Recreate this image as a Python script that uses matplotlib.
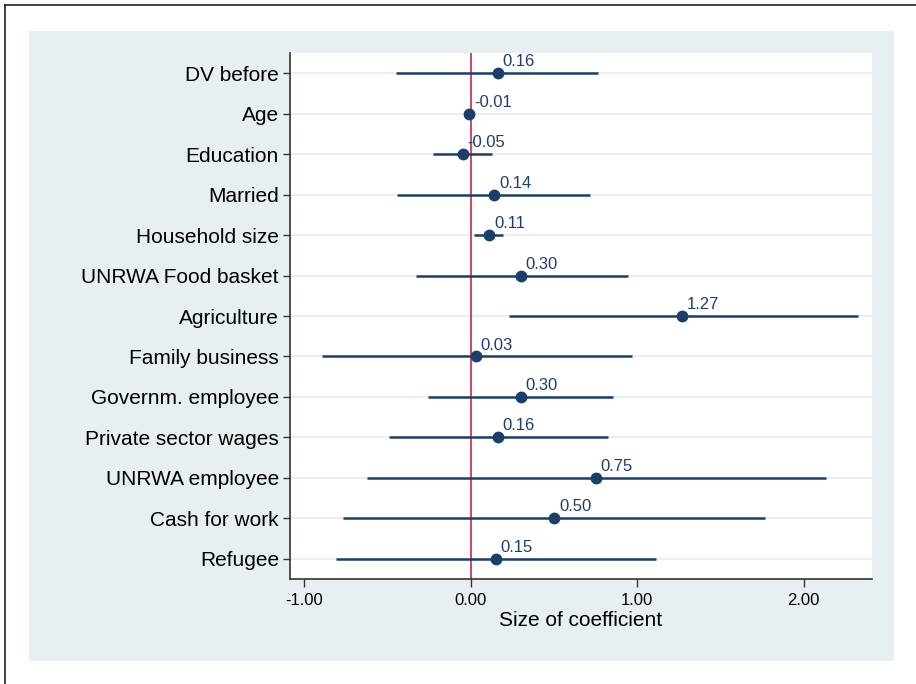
import numpy as np
import matplotlib
matplotlib.use("Agg")
from matplotlib import pyplot as plt
from matplotlib.patches import Rectangle
from matplotlib.lines import Line2D

plt.rcParams['font.family'] = ['Liberation Sans', 'DejaVu Sans']
plt.rcParams['axes.unicode_minus'] = False

# data
variables = ["DV before", "Age", "Education", "Married", "Household size",
             "UNRWA Food basket", "Agriculture", "Family business",
             "Governm. employee", "Private sector wages", "UNRWA employee",
             "Cash for work", "Refugee"]
coef = [0.16, -0.01, -0.05, 0.14, 0.11, 0.30, 1.27, 0.03, 0.30, 0.16, 0.75, 0.50, 0.15]
ci_low = [-0.45, -0.03, -0.226, -0.443, 0.02, -0.33, 0.23, -0.893, -0.258, -0.491, -0.625, -0.771, -0.811]
ci_high = [0.765, 0.01, 0.128, 0.717, 0.194, 0.941, 2.323, 0.965, 0.855, 0.821, 2.132, 1.768, 1.115]
xticks = [-1, 0, 1, 2]

navy = "#1b3f6b"
fig = plt.figure(figsize=(9.16, 6.84), dpi=100)

# stata-like outer panel and frame
fig.patches.append(Rectangle((29/916, 1-661/684), 865/916, 630/684,
                             transform=fig.transFigure, facecolor="#e8eff2",
                             edgecolor="none", zorder=-10))
fig.lines.append(Line2D([5/916, 5/916], [0, 1-5/684], transform=fig.transFigure,
                        color="#222222", lw=1.2))
fig.lines.append(Line2D([5/916, 1], [1-5/684, 1-5/684], transform=fig.transFigure,
                        color="#222222", lw=1.2))

ax = fig.add_axes([290/916, 1-579/684, (872-290)/916, (579-53)/684])
ax.set_zorder(5)
ax.set_facecolor("white")

y = np.arange(len(variables))
for yy in y:
    ax.axhline(yy, color="#e9eff3", lw=1.5, zorder=1)
ax.axvline(0, color="#cc3a4c", lw=1.3, zorder=2)
ax.hlines(y, ci_low, ci_high, color=navy, lw=1.8, zorder=3)
ax.plot(coef, y, 'o', color=navy, markersize=7.5, zorder=4)

for c, yy in zip(coef, y):
    ax.annotate("%.2f" % c, (c, yy), xytext=(3.5, 5), textcoords="offset points",
                ha="left", va="baseline", fontsize=12, color=navy, zorder=5)

ax.set_xlim(-1.087, 2.41)
ax.set_ylim(12.5, -0.5)
ax.set_yticks(y)
ax.set_yticklabels(variables, fontsize=15)
ax.set_xticks(xticks)
ax.set_xticklabels(["%.2f" % t for t in xticks], fontsize=12)
ax.set_xlabel("Size of coefficient", fontsize=15, labelpad=2)

ax.spines['right'].set_visible(False)
ax.spines['top'].set_visible(False)
ax.spines['left'].set_color("#333333")
ax.spines['bottom'].set_color("#333333")
ax.spines['left'].set_linewidth(1.2)
ax.spines['bottom'].set_linewidth(1.2)
ax.tick_params(axis='y', length=5, width=1, color="#333333", pad=3)
ax.tick_params(axis='x', length=6, width=1, color="#333333", pad=4)

fig.savefig("out.png", dpi=100)
